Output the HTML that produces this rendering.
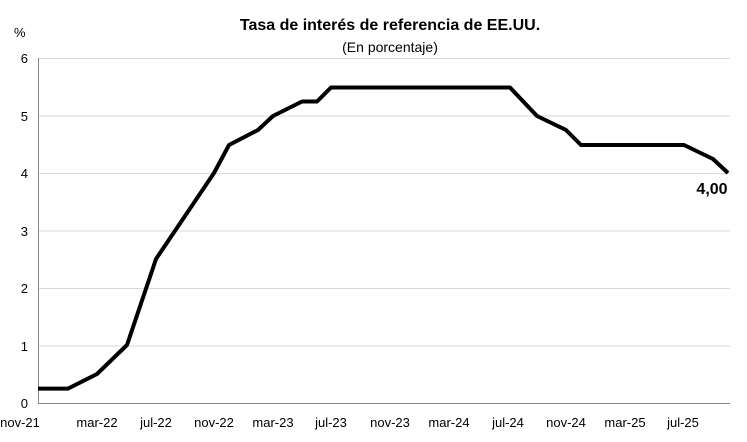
<!DOCTYPE html>
<html><head><meta charset="utf-8"><style>
body{margin:0;background:#fff;}
svg{display:block;font-family:"Liberation Sans",sans-serif;}
</style></head><body>
<svg width="747" height="442" viewBox="0 0 747 442">
<rect width="747" height="442" fill="#fff"/>
<text x="390" y="30" text-anchor="middle" font-size="16" font-weight="bold" fill="#000">Tasa de interés de referencia de EE.UU.</text>
<text x="390" y="52" text-anchor="middle" font-size="14" fill="#000">(En porcentaje)</text>
<text x="14" y="37" font-size="13" fill="#000">%</text>
<g stroke="#d9d9d9" stroke-width="1">
<line x1="38" x2="730" y1="58.5" y2="58.5"/>
<line x1="38" x2="730" y1="116" y2="116"/>
<line x1="38" x2="730" y1="173.5" y2="173.5"/>
<line x1="38" x2="730" y1="231" y2="231"/>
<line x1="38" x2="730" y1="288.5" y2="288.5"/>
<line x1="38" x2="730" y1="346" y2="346"/>
</g>
<line x1="38" x2="730" y1="403.5" y2="403.5" stroke="#888"/>
<line x1="38.5" x2="38.5" y1="58" y2="404" stroke="#888"/>
<g font-size="13" fill="#000" text-anchor="end">
<text x="28" y="63">6</text><text x="28" y="121">5</text><text x="28" y="178">4</text>
<text x="28" y="236">3</text><text x="28" y="293">2</text><text x="28" y="351">1</text><text x="28" y="408">0</text>
</g>
<g font-size="13" fill="#000" text-anchor="middle">
<text x="20" y="427">nov-21</text><text x="97" y="427">mar-22</text><text x="156" y="427">jul-22</text>
<text x="214" y="427">nov-22</text><text x="273" y="427">mar-23</text><text x="331" y="427">jul-23</text>
<text x="390" y="427">nov-23</text><text x="449" y="427">mar-24</text><text x="508" y="427">jul-24</text>
<text x="566" y="427">nov-24</text><text x="625" y="427">mar-25</text><text x="683" y="427">jul-25</text>
</g>
<polyline fill="none" stroke="#000" stroke-width="4" stroke-linejoin="round" points="38,388.6 68,388.6 97,374 127,345 156,259 214,173 229,145 258,130 273,116 302,101.5 317,101.5 331,87.5 510,87.5 537,116 566,130 581,145 684,145 713,159 728,173"/>
<text x="712" y="194" font-size="16" font-weight="bold" fill="#000" text-anchor="middle">4,00</text>
</svg>
</body></html>
